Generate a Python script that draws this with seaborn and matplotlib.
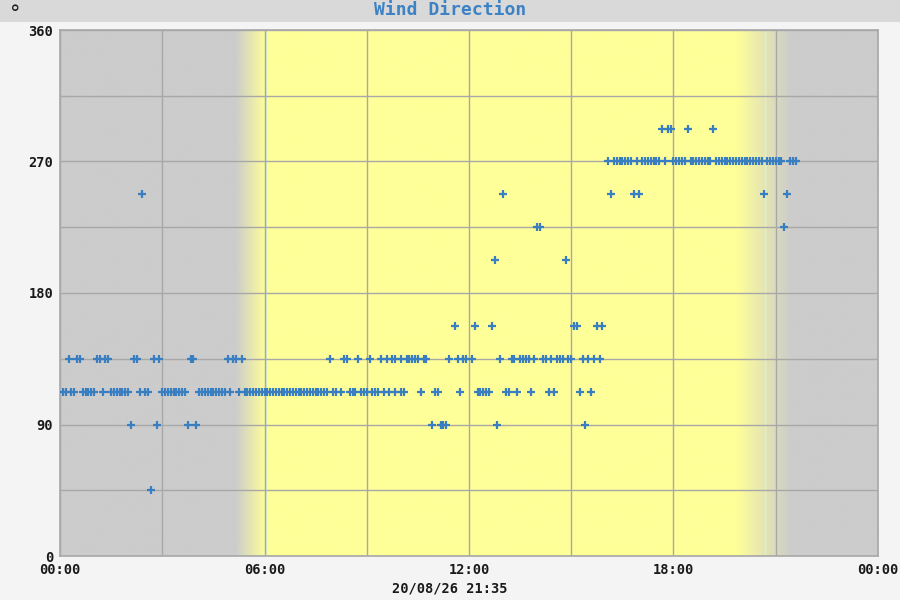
import matplotlib
matplotlib.use("Agg")
import numpy as np
import pandas as pd
import matplotlib.pyplot as plt
import seaborn as sns
from matplotlib.patches import Rectangle

# wind direction readings (degrees) -> times of day they were logged
dir_045 = ["02:40"]
dir_090 = ["02:05", "02:50", "03:45", "04:00", "10:55", "11:10", "11:15", "11:20", "12:50", "15:25"]
dir_112 = [
    "00:05", "00:10", "00:20", "00:25", "00:40", "00:45", "00:50", "00:55", "01:00", "01:15",
    "01:30", "01:35", "01:40", "01:45", "01:50", "01:55", "02:00", "02:20", "02:30", "02:35",
    "03:00", "03:05", "03:10", "03:15", "03:20", "03:25", "03:30", "03:35", "03:40",
    "04:05", "04:10", "04:15", "04:20", "04:25", "04:30", "04:35", "04:40", "04:45", "04:50",
    "05:00", "05:15", "05:25", "05:30", "05:35", "05:40", "05:45", "05:50", "05:55",
    "06:00", "06:05", "06:10", "06:15", "06:20", "06:25", "06:30", "06:35", "06:40", "06:45",
    "06:50", "06:55", "07:00", "07:05", "07:10", "07:15", "07:20", "07:25", "07:30", "07:35",
    "07:40", "07:45", "07:50", "08:00", "08:05", "08:15", "08:30", "08:35", "08:40", "08:50",
    "08:55", "09:00", "09:10", "09:15", "09:20", "09:30", "09:40", "09:50", "10:00", "10:05",
    "10:35", "11:00", "11:05", "11:45", "12:15", "12:20", "12:25", "12:30", "12:35", "13:05",
    "13:10", "13:25", "13:50", "14:20", "14:30", "15:15", "15:35",
]
dir_135 = [
    "00:15", "00:30", "00:35", "01:05", "01:10", "01:20", "01:25", "02:10", "02:15", "02:45",
    "02:55", "03:50", "03:55", "04:55", "05:05", "05:10", "05:20", "07:55", "08:20", "08:25",
    "08:45", "09:05", "09:25", "09:35", "09:45", "09:50", "10:00", "10:10", "10:15", "10:20",
    "10:25", "10:30", "10:40", "10:45", "11:25", "11:40", "11:50", "11:55", "12:05", "12:55",
    "13:15", "13:20", "13:30", "13:35", "13:40", "13:45", "13:55", "14:10", "14:15", "14:25",
    "14:35", "14:40", "14:45", "14:55", "15:00", "15:20", "15:30", "15:40", "15:50",
]
dir_157 = ["11:35", "12:10", "12:40", "15:05", "15:10", "15:45", "15:55"]
dir_202 = ["12:45", "14:50"]
dir_225 = ["14:00", "14:05", "21:15"]
dir_247 = ["02:25", "13:00", "16:10", "16:50", "17:00", "20:40", "21:20"]
dir_270 = [
    "16:05", "16:15", "16:20", "16:25", "16:30", "16:35", "16:40", "16:45", "16:55",
    "17:05", "17:10", "17:15", "17:20", "17:25", "17:30", "17:35", "17:45",
    "18:00", "18:05", "18:10", "18:15", "18:20", "18:30", "18:35", "18:40", "18:45",
    "18:50", "18:55", "19:00", "19:05", "19:15", "19:20", "19:25", "19:30", "19:35",
    "19:40", "19:45", "19:50", "19:55", "20:00", "20:05", "20:10", "20:15", "20:20",
    "20:25", "20:30", "20:35", "20:45", "20:50", "20:55", "21:00", "21:05", "21:10",
    "21:25", "21:30", "21:35",
]
dir_292 = ["17:40", "17:50", "17:55", "18:25", "19:10"]

directions = [45, 90, 112.5, 135, 157.5, 202.5, 225, 247.5, 270, 292.5]
time_lists = [dir_045, dir_090, dir_112, dir_135, dir_157, dir_202, dir_225, dir_247, dir_270, dir_292]

x_ticks = [0, 6, 12, 18, 24]
x_labels = ["00:00", "06:00", "12:00", "18:00", "00:00"]
y_ticks = [0, 90, 180, 270, 360]
stamp = "20/08/26 21:35"

# daylight shading (hours): fade in, fade out
dawn = (5.15, 6.05)
dusk = (19.85, 21.45)


def to_hours(s):
    h, m = s.split(":")
    return int(h) + int(m) / 60


rows = []
for d, times in zip(directions, time_lists):
    for t in times:
        rows.append({"hour": to_hours(t), "direction": d})
df = pd.DataFrame(rows)

sns.set_style("white")
plt.rcParams["font.family"] = ["DejaVu Sans Mono", "DejaVu Sans"]

fig = plt.figure(figsize=(9, 6), dpi=100, facecolor="#f4f4f4")
fig.patches.append(Rectangle((0, 1 - 22 / 600), 1, 22 / 600, transform=fig.transFigure,
                             facecolor="#d9d9d9", edgecolor="none", zorder=0))
ax = fig.add_axes([60 / 900, 44 / 600, 818 / 900, 526 / 600])

# gray night / yellow day background with soft edges
hh = np.linspace(0, 24, 2000)
w = np.clip((hh - dawn[0]) / (dawn[1] - dawn[0]), 0, 1) * np.clip((dusk[1] - hh) / (dusk[1] - dusk[0]), 0, 1)
gray = np.array([204, 204, 204]) / 255
yellow = np.array([255, 255, 153]) / 255
img = gray + w[:, None] * (yellow - gray)
ax.imshow(img[None, :, :], extent=[0, 24, 0, 360], aspect="auto", zorder=0, interpolation="bilinear")
ax.axvline(6.05, color="#d8f2d0", lw=1, zorder=0.4)
ax.axvline(20.69, color="#d8f2d0", lw=1, zorder=0.4)

sns.scatterplot(data=df, x="hour", y="direction", marker="+", color="#3a7ec2",
                s=34, linewidth=1.6, ax=ax, zorder=3, legend=False)

ax.set_xlim(0, 24)
ax.set_ylim(0, 360)
ax.set_xticks(x_ticks)
ax.set_xticklabels(x_labels)
ax.set_yticks(y_ticks)
ax.set_xticks([3, 9, 15, 21], minor=True)
ax.set_yticks([45, 135, 225, 315], minor=True)
ax.grid(which="both", color="#a8a8a8", lw=1.0)
ax.set_axisbelow(True)
ax.tick_params(which="both", length=0, labelsize=9.8, colors="#1a1a1a", pad=5)
for lab in ax.get_xticklabels() + ax.get_yticklabels():
    lab.set_fontweight("bold")
ax.set_xlabel("")
ax.set_ylabel("")
for sp in ax.spines.values():
    sp.set_color("#a8a8a8")
    sp.set_linewidth(1.2)

fig.text(0.5, 1 - 10 / 600, "Wind Direction", ha="center", va="center",
         fontsize=13, fontweight="bold", color="#3d82c4")
fig.text(15 / 900, 1 - 4 / 600, "°", ha="center", va="top", fontsize=15, color="#1a1a1a")
fig.text(0.5, 1 - 589 / 600, stamp, ha="center", va="center",
         fontsize=9.8, fontweight="bold", color="#1a1a1a")

fig.savefig("out.png", dpi=100, facecolor=fig.get_facecolor())
